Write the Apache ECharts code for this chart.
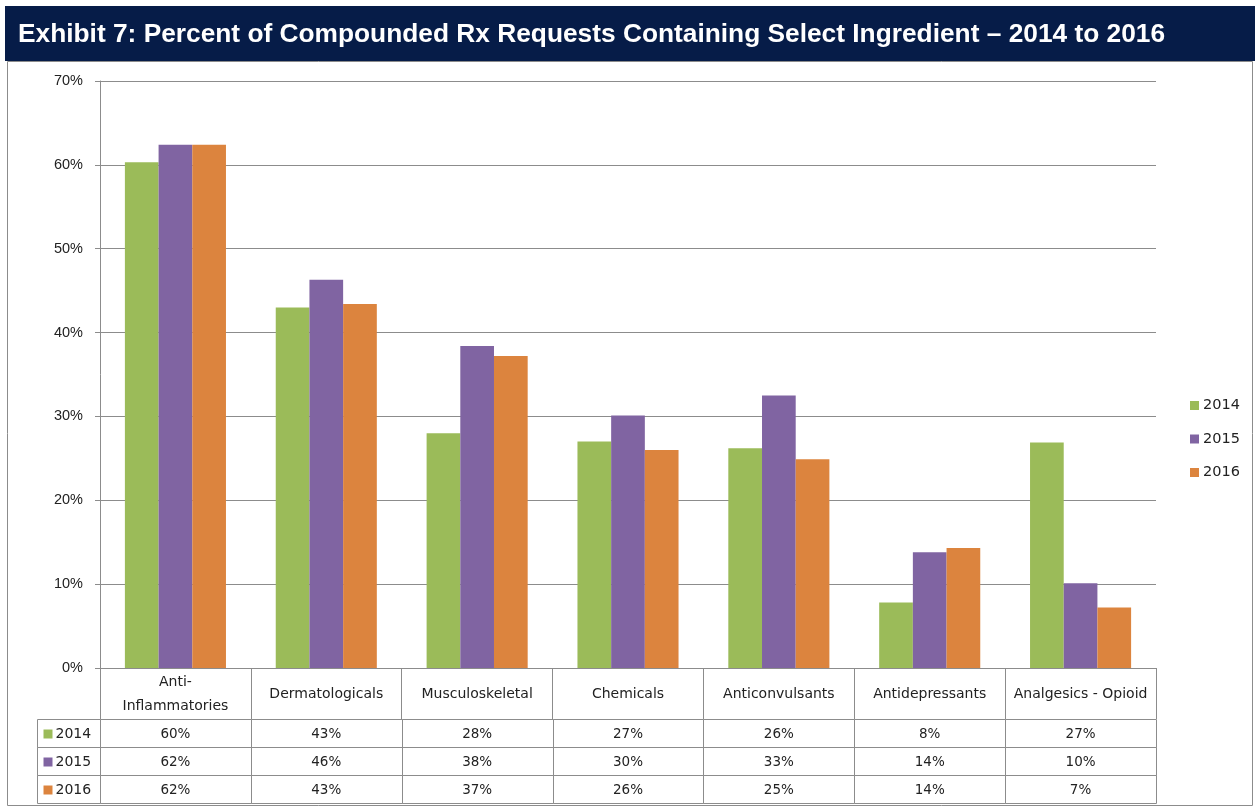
<!DOCTYPE html>
<html>
<head>
<meta charset="utf-8">
<script src="https://cdn.jsdelivr.net/npm/echarts@6/dist/echarts.min.js"></script>
<style>
html,body{margin:0;padding:0;background:#fff;}
#chart{width:1255px;height:807px;}
</style>
</head>
<body>
<div id="chart"></div>
<script>
const titleText = 'Exhibit 7: Percent of Compounded Rx Requests Containing Select Ingredient \u2013 2014 to 2016';
const categories = ['Anti-\nInflammatories', 'Dermatologicals', 'Musculoskeletal', 'Chemicals', 'Anticonvulsants', 'Antidepressants', 'Analgesics - Opioid'];
const years = ['2014', '2015', '2016'];
const values2014 = [60.3, 43.0, 28.0, 27.0, 26.2, 7.8, 26.9];
const values2015 = [62.4, 46.3, 38.4, 30.1, 32.5, 13.8, 10.1];
const values2016 = [62.4, 43.4, 37.2, 26.0, 24.9, 14.3, 7.2];
const yMin = 0, yMax = 70, yStep = 10;
const colors = ['#9bbb59', '#8064a2', '#dc843e'];

const seriesValues = [values2014, values2015, values2016];
const gridColor = '#8c8c8c';
const tableFont = 'DejaVu Sans';
const px = v => Math.round(v) + 0.5;

const chart = echarts.init(document.getElementById('chart'));

const cellData = [];
years.forEach((y, r) => categories.forEach((c, i) => cellData.push([i, r])));
const labelData = years.map((y, r) => [0, r]);

function cellRect(api, x, y) {
  const p = api.coord([x, y]);
  const s = api.size([1, 1]);
  const x0 = px(p[0] - s[0] / 2), y0 = px(p[1] - s[1] / 2);
  const x1 = px(p[0] + s[0] / 2), y1 = px(p[1] + s[1] / 2);
  return {x: x0, y: y0, w: x1 - x0, h: y1 - y0, cx: p[0], cy: p[1]};
}

const option = {
  animation: false,
  color: colors,
  title: {
    text: titleText,
    left: 18,
    top: 21,
    padding: 0,
    textStyle: {color: '#ffffff', fontFamily: 'Arial, Liberation Sans', fontWeight: 'bold', fontSize: 26.3, lineHeight: 28}
  },
  graphic: [
    {type: 'rect', z: -10, shape: {x: 5, y: 6, width: 1250, height: 55}, style: {fill: '#061c48'}},
    {type: 'rect', z: -10, shape: {x: 7.5, y: 61.5, width: 1245, height: 744}, style: {fill: 'none', stroke: gridColor, lineWidth: 1}}
  ],
  legend: {
    orient: 'vertical',
    left: 1185,
    top: 393,
    itemWidth: 9,
    itemHeight: 9,
    itemGap: 18.5,
    icon: 'rect',
    data: years,
    textStyle: {fontFamily: tableFont, fontSize: 14.5, color: '#222', lineHeight: 14, padding: [0, 0, 0, -1]}
  },
  grid: [
    {left: 100, top: 81, width: 1056, height: 587},
    {left: 100, top: 719, width: 1056, height: 84},
    {left: 37, top: 719, width: 63, height: 84}
  ],
  xAxis: [
    {
      type: 'category', gridIndex: 0, data: categories,
      axisLine: {lineStyle: {color: gridColor}},
      axisTick: {show: true, length: 51, inside: false, lineStyle: {color: gridColor}},
      axisLabel: {margin: 26, verticalAlign: 'middle', fontFamily: tableFont, fontSize: 14, lineHeight: 24, color: '#222', interval: 0}
    },
    {type: 'category', gridIndex: 1, data: categories, show: false},
    {type: 'category', gridIndex: 2, data: [''], show: false}
  ],
  yAxis: [
    {
      type: 'value', gridIndex: 0, min: yMin, max: yMax, interval: yStep,
      axisLine: {show: true, lineStyle: {color: gridColor}},
      axisTick: {show: true, length: 5, lineStyle: {color: gridColor}},
      splitLine: {lineStyle: {color: gridColor}},
      axisLabel: {formatter: '{value}%', margin: 17, fontFamily: 'Liberation Sans, Arial', fontSize: 14.5, color: '#222'}
    },
    {type: 'category', gridIndex: 1, data: years, inverse: true, show: false},
    {type: 'category', gridIndex: 2, data: years, inverse: true, show: false}
  ],
  series: [
    ...years.map((y, k) => ({
      name: y, type: 'bar', xAxisIndex: 0, yAxisIndex: 0,
      data: seriesValues[k],
      barGap: '0%', barCategoryGap: '33%',
      itemStyle: {color: colors[k]}
    })),
    {
      type: 'custom', xAxisIndex: 1, yAxisIndex: 1, data: cellData, silent: true,
      encode: {x: 0, y: 1},
      renderItem: function (params, api) {
        const i = api.value(0), r = api.value(1);
        const c = cellRect(api, i, r);
        return {
          type: 'group',
          children: [
            {type: 'rect', shape: {x: c.x, y: c.y, width: c.w, height: c.h}, style: {fill: 'none', stroke: gridColor, lineWidth: 1}},
            {type: 'text', style: {text: Math.round(seriesValues[r][i]) + '%', x: c.cx, y: c.cy + 1, align: 'center', verticalAlign: 'middle', fontFamily: tableFont, fontSize: 13.5, fill: '#222'}}
          ]
        };
      }
    },
    {
      type: 'custom', xAxisIndex: 2, yAxisIndex: 2, data: labelData, silent: true,
      encode: {x: 0, y: 1},
      renderItem: function (params, api) {
        const r = api.value(1);
        const c = cellRect(api, 0, r);
        return {
          type: 'group',
          children: [
            {type: 'rect', shape: {x: c.x, y: c.y, width: c.w, height: c.h}, style: {fill: 'none', stroke: gridColor, lineWidth: 1}},
            {type: 'text', style: {
              text: '{sq|}{t|' + years[r] + '}', x: c.x + 6, y: c.cy + 1, align: 'left', verticalAlign: 'middle',
              rich: {
                sq: {width: 9, height: 9, backgroundColor: colors[r]},
                t: {fontFamily: tableFont, fontSize: 14, fill: '#222', color: '#222', padding: [0, 0, 0, 3]}
              }
            }}
          ]
        };
      }
    }
  ]
};
chart.setOption(option);
</script>
</body>
</html>
